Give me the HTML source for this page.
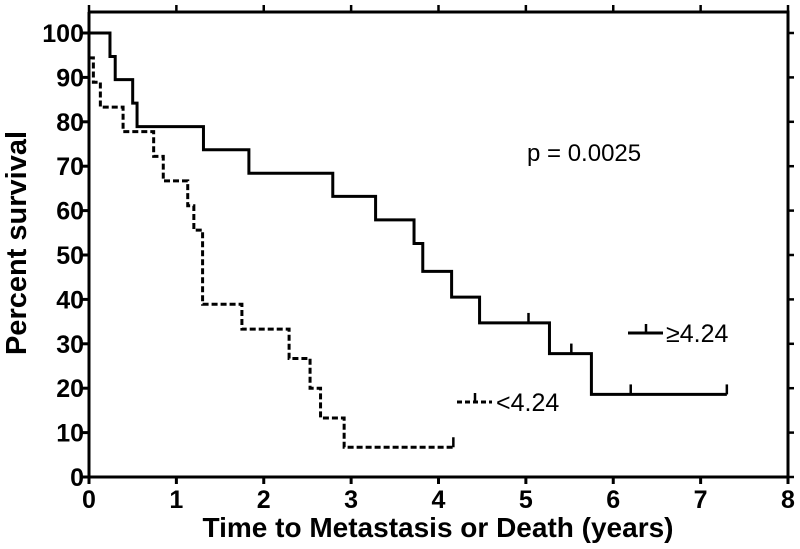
<!DOCTYPE html>
<html><head><meta charset="utf-8"><style>
html,body{margin:0;padding:0;background:#fff;}
svg{display:block;font-family:"Liberation Sans",Arial,sans-serif;}
</style></head><body>
<svg id="chart" width="800" height="549" viewBox="0 0 800 549">
<g id="axes"></g>
<g id="series"></g>
<text x="527" y="161" font-size="24">p = 0.0025</text>
<g>
 <g>
  <line x1="628" y1="333" x2="663" y2="333" stroke="#000" stroke-width="3"/>
  <line x1="646" y1="333" x2="646" y2="324" stroke="#000" stroke-width="2.5"/>
  <text x="666" y="342" font-size="25">≥4.24</text>
 </g>
 <g>
  <line x1="457" y1="402" x2="492" y2="402" stroke="#000" stroke-width="3" stroke-dasharray="5,3"/>
  <line x1="475" y1="402" x2="475" y2="393" stroke="#000" stroke-width="2.5"/>
  <text x="496" y="411" font-size="25">&lt;4.24</text>
 </g>
</g>
<text x="438" y="537" font-size="28" font-weight="bold" text-anchor="middle">Time to Metastasis or Death (years)</text>
<text transform="translate(26,243) rotate(-90)" font-size="29" font-weight="bold" text-anchor="middle">Percent survival</text>
</svg>
<script>
const xTicks=[0,1,2,3,4,5,6,7,8];
const yTicks=[0,10,20,30,40,50,60,70,80,90,100];
const highTimes=[0,0.24,0.30,0.50,0.55,1.31,1.83,2.79,3.28,3.72,3.82,4.15,4.47,5.27,5.75,7.3];
const highSurv=[100,94.7,89.5,84.2,78.9,73.7,68.4,63.2,57.9,52.6,46.3,40.5,34.7,27.8,18.6,18.6];
const highCensor=[5.03,5.52,6.2,7.3];
const highCensorSurv=[34.7,27.8,18.6,18.6];
const lowTimes=[0,0.05,0.13,0.39,0.74,0.85,1.13,1.20,1.30,1.75,2.29,2.53,2.65,2.92,4.17];
const lowSurv=[94.4,88.9,83.3,77.8,72.2,66.7,61.1,55.6,38.9,33.3,26.7,20,13.3,6.7,6.7];
const lowCensor=[4.17];
const lowCensorSurv=[6.7];
const X0=89,X1=788,Y0=477,Y1=33,TOP=12;
const sx=v=>X0+(X1-X0)*v/8;
const sy=v=>Y0-(Y0-Y1)*v/100;
const NS="http://www.w3.org/2000/svg";
function mk(tag,attrs,parent){const e=document.createElementNS(NS,tag);for(const k in attrs)e.setAttribute(k,attrs[k]);parent.appendChild(e);return e;}
const ax=document.getElementById('axes');
let frame=mk('path',{d:`M${X0},${TOP}V${Y0}H${X1}V${TOP}H${X0}`,fill:'none',stroke:'#000','stroke-width':3},ax);


xTicks.forEach(t=>{
 const x=sx(t);
 let l=mk('line',{x1:x,y1:Y0,x2:x,y2:Y0+7,stroke:'#000','stroke-width':3},ax);
 
 
 let l2=mk('line',{x1:x,y1:TOP,x2:x,y2:TOP-7,stroke:'#000','stroke-width':2.5},ax);
 
 
 let tx=mk('text',{x:x,y:Y0+31,'font-size':25,'font-weight':'bold','text-anchor':'middle'},ax);
 tx.textContent=t;
 
 
});
yTicks.forEach(t=>{
 const y=sy(t);
 let l=mk('line',{x1:X0-7,y1:y,x2:X0,y2:y,stroke:'#000','stroke-width':3},ax);
 
 
 let l2=mk('line',{x1:X1,y1:y,x2:X1+6,y2:y,stroke:'#000','stroke-width':2.5},ax);
 
 
 let tx=mk('text',{x:X0-5,y:y+9,'font-size':25,'font-weight':'bold','text-anchor':'end'},ax);
 tx.textContent=t;
 
 
});
const sg=document.getElementById('series');
function stepPath(ts,ss){
 let d=`M${sx(ts[0])},${sy(ss[0])}`;
 for(let i=1;i<ts.length;i++){d+=`H${sx(ts[i])}V${sy(ss[i])}`;}
 return d;
}
let hp=mk('path',{d:stepPath(highTimes,highSurv),fill:'none',stroke:'#000','stroke-width':3},sg);


let lp=mk('path',{d:stepPath(lowTimes,lowSurv),fill:'none',stroke:'#000','stroke-width':3,'stroke-dasharray':'6,3'},sg);


highCensor.forEach((t,i)=>{
 let c=mk('line',{x1:sx(t),y1:sy(highCensorSurv[i]),x2:sx(t),y2:sy(highCensorSurv[i])-10,stroke:'#000','stroke-width':2.5},sg);
 
 
});
lowCensor.forEach((t,i)=>{
 let c=mk('line',{x1:sx(t),y1:sy(lowCensorSurv[i]),x2:sx(t),y2:sy(lowCensorSurv[i])-10,stroke:'#000','stroke-width':2.5},sg);
 
 
});
</script>
</body></html>
